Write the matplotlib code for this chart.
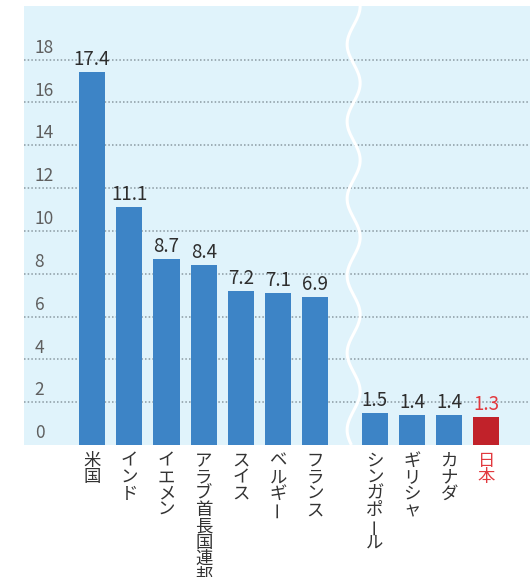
import numpy as np
import matplotlib
matplotlib.use('Agg')
import matplotlib.pyplot as plt
import matplotlib.transforms as mtransforms

plt.rcParams['font.family'] = ['Noto Sans CJK JP', 'DejaVu Sans']

# data
countries = ['米国', 'インド', 'イエメン', 'アラブ首長国連邦', 'スイス', 'ベルギー', 'フランス',
             'シンガポール', 'ギリシャ', 'カナダ', '日本']
values = [17.4, 11.1, 8.7, 8.4, 7.2, 7.1, 6.9, 1.5, 1.4, 1.4, 1.3]
yticks = [0, 2, 4, 6, 8, 10, 12, 14, 16, 18]
highlight = '日本'

bg = '#e0f3fb'
blue = '#3d84c6'
red = '#c1222a'
red_txt = '#e2393e'
dark = '#2e2e2e'

# bars after the break are shifted right to leave room for the wave
gap = 0.6
xs = [i + (gap if i >= 7 else 0) for i in range(len(countries))]

fig = plt.figure(figsize=(5.3, 5.77), dpi=100)
ax = fig.add_axes([24 / 530, 132 / 577, 506 / 530, 439 / 577])
ax.set_facecolor(bg)
ax.set_xlim(-1.83, 11.77)
ax.set_ylim(0, 20.5)

# dotted grid lines
for t in yticks[1:]:
    ax.axhline(t, color='#8a99a1', lw=1.1, ls=(0, (1, 1.4)), zorder=1)

colors = [red if c == highlight else blue for c in countries]
ax.bar(xs, values, width=0.7, color=colors, zorder=3)

# wavy break line
yy = np.linspace(0, 20.5, 400)
wx = 7.03 + 0.175 * np.cos(2 * np.pi * (20.5 - yy) / 3.6)
ax.plot(wx, yy, color='white', lw=2.2, zorder=2, solid_capstyle='butt')

# value labels
for x, v, c in zip(xs, values, countries):
    ax.annotate(f'{v}', xy=(x, v), xytext=(0, 1.5), textcoords='offset points',
                ha='center', va='bottom', fontsize=13.5,
                color=red_txt if c == highlight else dark, zorder=4)

# y tick labels sit above their grid lines
trans = mtransforms.blended_transform_factory(ax.transAxes, ax.transData)
for t in yticks:
    ax.annotate(str(t), xy=(0.021, t), xycoords=trans, xytext=(0, 2),
                textcoords='offset points', ha='left', va='bottom',
                fontsize=12.5, color='#5f5f5f')

# vertical (tategaki) country labels, one character per line
for x, c in zip(xs, countries):
    col = red_txt if c == highlight else '#333333'
    for i, ch in enumerate(c):
        ax.annotate(ch, xy=(x, 0), xycoords=('data', 'axes fraction'),
                    xytext=(0, -5 - i * 11.8), textcoords='offset points',
                    ha='center', va='top', fontsize=12.5, color=col,
                    rotation=90 if ch == 'ー' else 0, annotation_clip=False)

ax.set_xticks([])
ax.set_yticks([])
for s in ax.spines.values():
    s.set_visible(False)

fig.savefig('out.png', dpi=100)
